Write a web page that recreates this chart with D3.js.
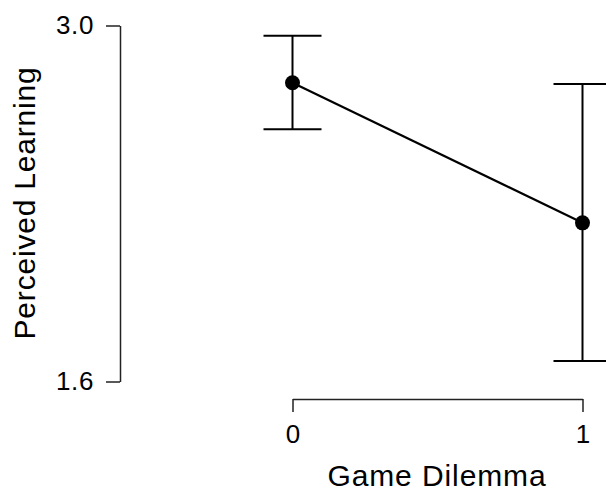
<!DOCTYPE html>
<html>
<head>
<meta charset="utf-8">
<script src="https://cdn.jsdelivr.net/npm/d3@7"></script>
<style>
  html, body { margin: 0; padding: 0; background: #fff; }
  svg { display: block; font-family: Arial, "Liberation Sans", sans-serif; }
</style>
</head>
<body>
<svg id="chart"></svg>
<script>
// Perceived Learning by Game Dilemma: means with error bars
const groups = [0, 1];
const means = [2.775, 2.224];
const lower = [2.592, 1.681];
const upper = [2.960, 2.770];
const yTicks = [1.6, 3.0];

(function () {
    const W = 606, H = 493;
    const svg = d3.select("#chart").attr("width", W).attr("height", H);

    const x = d3.scaleLinear().domain([0, 1]).range([292.5, 582.5]);
    const y = d3.scaleLinear().domain([1.6, 3.0]).range([381.5, 25.5]);

    const rows = groups.map((g, i) => ({ g, m: means[i], lo: lower[i], hi: upper[i] }));

    // y axis
    const yAxis = svg.append("g").attr("transform", "translate(120,0)")
        .call(d3.axisLeft(y).tickValues(yTicks).tickFormat(d3.format(".1f"))
            .tickSize(14).tickSizeOuter(0).tickPadding(12));
    yAxis.selectAll("line, path").attr("stroke", "#222").attr("stroke-width", 1.5);
    yAxis.selectAll("text").attr("font-size", 26).attr("fill", "#000")
        .attr("letter-spacing", 0.6)
        .attr("font-family", "Arial, 'Liberation Sans', sans-serif");

    // x axis
    const xAxis = svg.append("g").attr("transform", "translate(0,399)")
        .call(d3.axisBottom(x).tickValues(groups).tickFormat(d3.format("d"))
            .tickSize(13).tickSizeOuter(0).tickPadding(13));
    xAxis.selectAll("line, path").attr("stroke", "#222").attr("stroke-width", 1.5);
    xAxis.selectAll("text").attr("font-size", 26).attr("fill", "#000")
        .attr("font-family", "Arial, 'Liberation Sans', sans-serif");

    // titles
    svg.append("text")
        .attr("transform", "translate(35,203) rotate(-90)")
        .attr("text-anchor", "middle")
        .attr("font-size", 30)
        .attr("letter-spacing", 0.8)
        .text("Perceived Learning");
    svg.append("text")
        .attr("x", 437).attr("y", 486)
        .attr("text-anchor", "middle")
        .attr("font-size", 30)
        .attr("letter-spacing", 0.9)
        .text("Game Dilemma");

    // error bars
    const capW = 29;
    const eb = svg.append("g").attr("stroke", "#000").attr("stroke-width", 2);
    eb.selectAll("line.v").data(rows).join("line").attr("class", "v")
        .attr("x1", d => x(d.g)).attr("x2", d => x(d.g))
        .attr("y1", d => y(d.lo)).attr("y2", d => y(d.hi));
    eb.selectAll("line.top").data(rows).join("line").attr("class", "top")
        .attr("x1", d => x(d.g) - capW).attr("x2", d => x(d.g) + capW)
        .attr("y1", d => y(d.hi)).attr("y2", d => y(d.hi));
    eb.selectAll("line.bot").data(rows).join("line").attr("class", "bot")
        .attr("x1", d => x(d.g) - capW).attr("x2", d => x(d.g) + capW)
        .attr("y1", d => y(d.lo)).attr("y2", d => y(d.lo));

    // connecting line
    svg.append("path").datum(rows)
        .attr("fill", "none").attr("stroke", "#000").attr("stroke-width", 2.2)
        .attr("d", d3.line().x(d => x(d.g)).y(d => y(d.m)));

    // points
    svg.selectAll("circle.pt").data(rows).join("circle").attr("class", "pt")
        .attr("cx", d => x(d.g)).attr("cy", d => y(d.m))
        .attr("r", 7.5).attr("fill", "#000");
})();
</script>
</body>
</html>
